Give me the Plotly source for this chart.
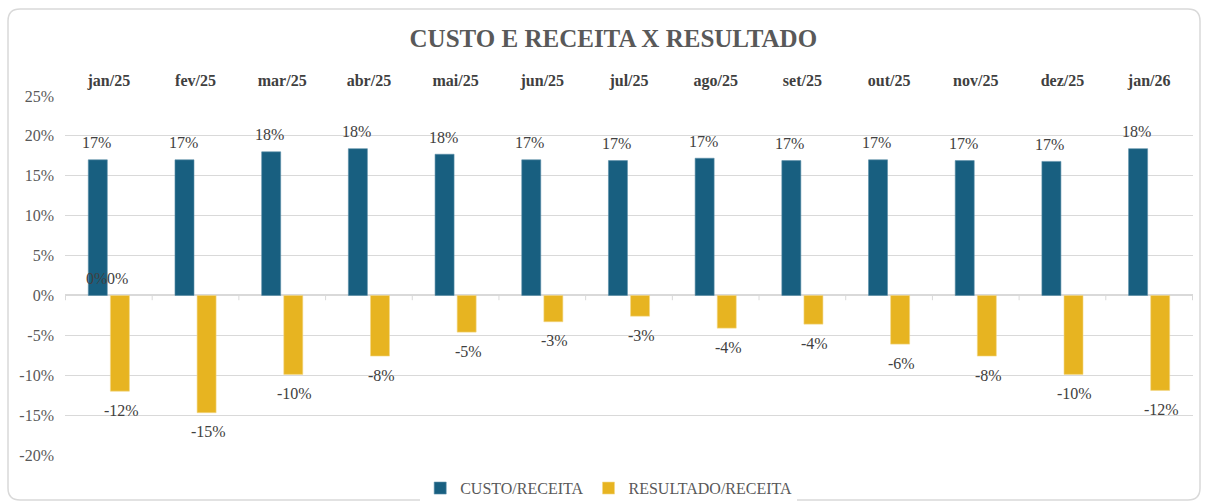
import plotly.graph_objects as go

# data (percent)
meses = ["jan/25", "fev/25", "mar/25", "abr/25", "mai/25", "jun/25", "jul/25",
         "ago/25", "set/25", "out/25", "nov/25", "dez/25", "jan/26"]
custo_receita = [17.0, 17.0, 18.0, 18.4, 17.7, 17.0, 16.9, 17.2, 16.9, 17.0, 16.9, 16.8, 18.4]
resultado_receita = [-12.0, -14.7, -9.9, -7.6, -4.6, -3.3, -2.6, -4.1, -3.6, -6.1, -7.6, -9.9, -11.9]
# stray zero labels that Excel draws over the first month
rotulos_zero = [0.0, 0.0]

y_ticks = list(range(-20, 30, 5))

AZUL = "#185f80"
AMARELO = "#e7b421"
CINZA = "#595959"
FONTE = "Liberation Serif"

# plot area in pixels (used for the frame drawn in paper coords)
W, H = 1205, 504
L, R, T, B = 65, 12, 96, 49
pw, ph = W - L - R, H - T - B

fig = go.Figure()

fig.add_trace(go.Bar(
    x=meses, y=custo_receita, name="CUSTO/RECEITA",
    marker=dict(color=AZUL, line=dict(color="#5b8fa8", width=0.6)),
    hoverinfo="x+y"
))
fig.add_trace(go.Bar(
    x=meses, y=resultado_receita, name="RESULTADO/RECEITA",
    marker=dict(color=AMARELO, line=dict(color="#f3d98a", width=0.6)),
    hoverinfo="x+y"
))

annotations = []
for m, v in zip(meses, custo_receita):
    annotations.append(dict(
        x=m, y=v, xref="x", yref="y", text=f"{v:.0f}%", showarrow=False,
        xshift=-12.5, yshift=17, font=dict(family=FONTE, size=16, color="#404040")
    ))
for m, v in zip(meses, resultado_receita):
    annotations.append(dict(
        x=m, y=v, xref="x", yref="y", text=f"{v:.0f}%", showarrow=False,
        xshift=12.5, yshift=-19, font=dict(family=FONTE, size=16, color="#404040")
    ))
for shift, v in zip([-12, 9], rotulos_zero):
    annotations.append(dict(
        x=meses[0], y=v, xref="x", yref="y", text=f"{v:.0f}%", showarrow=False,
        xshift=shift, yshift=17, font=dict(family=FONTE, size=16, color="#404040")
    ))

# small tick marks on the zero line at category boundaries
shapes = []
for i in range(len(meses) + 1):
    shapes.append(dict(
        type="line", xref="x", yref="y", x0=i - 0.5, x1=i - 0.5, y0=0, y1=-0.6,
        line=dict(color="#d9d9d9", width=1)
    ))


# rounded frame around the whole chart
def px_to_paper(x, y):
    return (x - L) / pw, (H - B - y) / ph


x0, y0, x1, y1, r = 8, 9, 1200, 500, 12
ax, ay = px_to_paper(x0 + r, y0)
bx, by = px_to_paper(x1 - r, y0)
cx, cy = px_to_paper(x1, y0 + r)
dx, dy = px_to_paper(x1, y1 - r)
ex, ey = px_to_paper(x1 - r, y1)
fx, fy = px_to_paper(x0 + r, y1)
gx, gy = px_to_paper(x0, y1 - r)
hx, hy = px_to_paper(x0, y0 + r)
k1x, k1y = px_to_paper(x1, y0)
k2x, k2y = px_to_paper(x1, y1)
k3x, k3y = px_to_paper(x0, y1)
k4x, k4y = px_to_paper(x0, y0)
path = (f"M {ax},{ay} L {bx},{by} Q {k1x},{k1y} {cx},{cy} L {dx},{dy} "
        f"Q {k2x},{k2y} {ex},{ey} L {fx},{fy} Q {k3x},{k3y} {gx},{gy} "
        f"L {hx},{hy} Q {k4x},{k4y} {ax},{ay} Z")
shapes.append(dict(type="path", xref="paper", yref="paper", path=path,
                   line=dict(color="#d9d9d9", width=1.5), layer="below"))

fig.update_layout(
    width=W, height=H,
    margin=dict(l=L, r=R, t=T, b=B, autoexpand=False),
    paper_bgcolor="white", plot_bgcolor="white",
    barmode="group", bargap=0.49, bargroupgap=0.14,
    title=dict(
        text="<b>CUSTO E RECEITA X RESULTADO</b>",
        x=0.509, xanchor="center", y=0.925, yanchor="middle",
        font=dict(family=FONTE, size=25, color=CINZA)
    ),
    font=dict(family=FONTE, color=CINZA),
    legend=dict(
        orientation="h", x=0.482, xanchor="center", y=-0.045, yanchor="top",
        font=dict(family=FONTE, size=16, color=CINZA),
        itemwidth=30, traceorder="normal"
    ),
    xaxis=dict(
        side="top", showgrid=False, showline=False, zeroline=False,
        tickfont=dict(family=FONTE, size=16, color="#404040"),
        tickprefix="<b>", ticksuffix="</b>", ticklabelstandoff=6,
        ticks="", automargin=False
    ),
    yaxis=dict(
        range=[-20, 25], tickvals=y_ticks, ticktext=[f"{v}%" for v in y_ticks],
        showgrid=True, gridcolor="#d9d9d9", gridwidth=1,
        zeroline=True, zerolinecolor="#d9d9d9", zerolinewidth=1.5,
        tickfont=dict(family=FONTE, size=16, color=CINZA),
        ticklabelstandoff=10, showline=False, automargin=False
    ),
    annotations=annotations,
    shapes=shapes,
    showlegend=True
)

# drop the page's default body margin so the chart sits at the window origin
fig.write_html(
    "out.html",
    config={"displayModeBar": False},
    post_script="document.body.style.margin='0';document.body.style.overflow='hidden';"
)
